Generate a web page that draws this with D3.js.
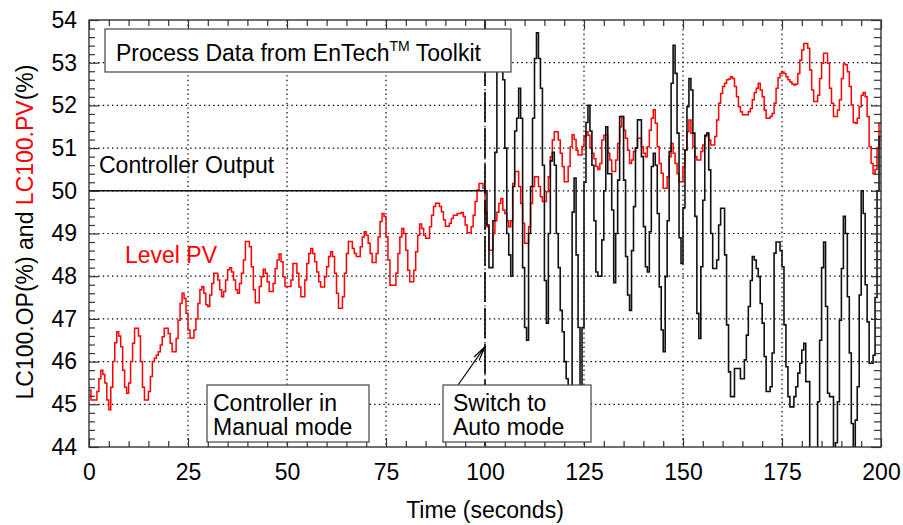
<!DOCTYPE html>
<html>
<head>
<meta charset="utf-8">
<script src="https://cdn.jsdelivr.net/npm/d3@7"></script>
<style>
body { margin: 0; background: #fff; }
text { font-family: "Liberation Sans", Arial, sans-serif; }
</style>
</head>
<body>
<svg id="chart" width="903" height="525"></svg>
<script>
// level PV, one sample every 0.5 s from t = 0 (ten samples per row)
var pvStart = 0, pvStep = 0.5;
var pvValues = [
  45.33, 45.1, 45.1, 45.1, 45.3, 45.6, 45.8, 45.7, 45.5, 45.1,
  44.87, 45.4, 46.0, 46.44, 46.7, 46.6, 46.35, 45.8, 45.4, 45.26,
  45.5, 46.0, 46.43, 46.78, 46.78, 46.6, 46.0, 45.4, 45.1, 45.1,
  45.3, 45.65, 46.0, 46.08, 46.15, 46.23, 46.39, 46.58, 46.78, 46.78,
  46.66, 46.43, 46.23, 46.23, 46.54, 46.97, 47.36, 47.6, 47.48, 47.13,
  46.74, 46.55, 46.55, 46.74, 47.0, 47.36, 47.68, 47.76, 47.6, 47.33,
  47.29, 47.56, 47.83, 48.07, 48.07, 47.91, 47.68, 47.52, 47.64, 47.91,
  48.15, 48.2, 48.1, 47.91, 47.68, 47.6, 47.83, 48.07, 48.38, 48.81,
  48.81, 48.69, 48.22, 47.68, 47.38, 47.38, 47.76, 47.99, 48.16, 48.07,
  47.87, 47.64, 47.64, 47.83, 48.18, 48.38, 48.52, 48.34, 47.99, 47.76,
  47.76, 47.76, 47.91, 48.3, 48.3, 48.07, 47.75, 47.52, 47.52, 47.91,
  48.3, 48.53, 48.65, 48.53, 48.34, 48.1, 47.87, 47.75, 47.75, 47.99,
  48.22, 48.46, 48.57, 48.46, 48.07, 47.6, 47.25, 47.25, 47.52, 48.07,
  48.53, 48.81, 48.81, 48.65, 48.53, 48.46, 48.46, 48.69, 48.92, 49.04,
  48.96, 48.77, 48.53, 48.32, 48.32, 48.53, 48.92, 49.28, 49.47, 49.4,
  48.92, 48.38, 47.79, 47.79, 47.79, 48.07, 48.53, 48.92, 49.12, 49.0,
  48.61, 48.14, 47.87, 47.87, 48.14, 48.57, 48.96, 49.22, 49.12, 48.96,
  48.89, 48.89, 49.16, 49.43, 49.63, 49.71, 49.71, 49.63, 49.51, 49.32,
  49.17, 49.17, 49.24, 49.35, 49.43, 49.43, 49.47, 49.47, 49.49, 49.4,
  49.2, 49.02, 49.02, 49.16, 49.43, 49.75, 50.02, 50.17, 50.17, 50.06,
  49.5, 49.16, 48.61, 48.61, 49.0, 49.3, 49.5, 49.7, 49.82, 49.55,
  49.47, 49.3, 49.16, 49.3, 50.17, 50.45, 50.45, 50.1, 49.7, 49.24,
  48.77, 48.77, 49.16, 49.7, 50.1, 50.33, 50.33, 50.1, 49.86, 49.75,
  49.75, 49.98, 50.33, 50.8, 51.19, 51.38, 51.38, 51.19, 50.88, 50.57,
  50.21, 50.21, 50.57, 51.03, 51.31, 51.2, 50.95, 50.84, 50.84, 51.03,
  51.27, 51.38, 51.3, 51.0, 50.88, 50.75, 50.57, 50.5, 50.64, 51.19,
  51.3, 51.3, 50.88, 50.72, 50.45, 50.45, 50.72, 51.11, 51.5, 51.74,
  51.42, 51.23, 50.95, 50.64, 50.72, 50.92, 51.0, 51.23, 51.23, 51.03,
  50.88, 50.8, 51.03, 51.42, 51.7, 51.9, 51.58, 51.03, 50.64, 50.41,
  50.06, 50.06, 50.33, 50.8, 51.11, 50.88, 50.64, 50.4, 50.21, 50.21,
  50.57, 50.95, 51.38, 51.66, 51.35, 51.03, 50.8, 50.72, 50.72, 50.92,
  51.07, 51.27, 51.35, 51.19, 51.07, 51.07, 51.27, 51.66, 52.05, 52.28,
  52.44, 52.52, 52.6, 52.62, 52.67, 52.63, 52.44, 52.2, 51.97, 51.85,
  51.78, 51.78, 51.78, 51.85, 51.93, 52.13, 52.3, 52.4, 52.52, 52.36,
  52.2, 51.89, 51.7, 51.7, 51.74, 51.81, 52.05, 52.4, 52.65, 52.75,
  52.78, 52.75, 52.67, 52.6, 52.55, 52.5, 52.48, 52.5, 52.75, 53.06,
  53.3, 53.45, 53.45, 53.34, 52.83, 52.36, 52.09, 52.09, 52.24, 52.63,
  52.99, 53.22, 53.22, 52.99, 52.4, 52.05, 51.74, 51.74, 51.89, 52.13,
  52.63, 52.97, 52.95, 52.79, 52.44, 52.01, 51.6, 51.58, 51.7, 51.97,
  52.24, 52.3, 52.2, 51.74, 51.03, 50.64, 50.4, 50.5, 51.0, 51.58,
  51.58
];

// controller output: held at 50 in manual, then sampled every 0.5 s in auto
var opManualTime = [0, 100];
var opManualValues = [50, 50];
var opAutoStart = 100, opAutoStep = 0.5;
var opAutoValues = [
  50.0, 49.2, 48.2, 48.2, 49.3, 50.9, 52.8, 53.4, 53.3, 52.6,
  51.0, 49.0, 48.5, 48.0, 50.1, 51.4, 51.7, 52.4, 51.7, 48.2,
  46.8, 46.5, 49.0, 50.1, 51.7, 53.1, 53.7, 53.1, 52.4, 50.6,
  47.9, 46.9, 49.0, 50.7, 50.9, 50.6, 49.0, 48.2, 47.2, 46.7,
  46.0, 45.6, 44.6, 44.9, 49.5, 50.3, 48.5, 46.8, 45.0, 46.8,
  50.2, 51.6, 52.0, 51.4, 50.6, 49.3, 48.1, 48.0, 48.0, 48.85,
  50.0, 51.5, 50.4, 50.4, 49.55, 47.85, 49.0, 50.25, 51.74, 51.74,
  50.25, 48.46, 47.56, 47.2, 48.6, 49.63, 51.0, 51.66, 51.66, 50.8,
  49.16, 48.22, 48.1, 49.04, 50.57, 50.88, 50.6, 49.47, 47.75, 46.74,
  46.23, 47.99, 49.3, 50.92, 52.52, 53.41, 52.75, 51.35, 48.9, 48.3,
  49.6, 50.96, 51.97, 52.63, 52.36, 51.35, 49.4, 47.13, 46.54, 48.22,
  49.78, 51.3, 51.35, 50.49, 49.0, 48.18, 48.18, 48.38, 49.2, 49.59,
  49.59, 48.5, 46.86, 45.76, 45.18, 45.18, 45.84, 45.84, 45.84, 45.6,
  45.6, 46.04, 46.62, 47.29, 47.9, 48.46, 48.38, 48.18, 47.99, 47.36,
  46.9, 46.12, 45.3, 45.3, 45.41, 46.2, 48.54, 48.8, 48.8, 48.6,
  48.22, 46.86, 45.88, 45.18, 44.94, 44.94, 45.18, 45.41, 45.73, 45.96,
  46.27, 46.43, 45.53, 45.53, 43.5, 43.0, 43.2, 43.8, 45.06, 46.5,
  48.2, 48.8, 47.29, 45.26, 45.18, 45.18, 43.8, 44.1, 45.06, 46.97,
  48.18, 49.4, 49.0, 47.52, 46.2, 44.55, 43.6, 44.63, 45.41, 47.56,
  50.0, 49.47, 47.8, 46.93, 45.96, 45.96, 46.15, 47.5, 50.0, 51.27,
  51.27
];

var switchTime = 100;
var xTicks = [0, 25, 50, 75, 100, 125, 150, 175, 200];
var yTicks = [44, 45, 46, 47, 48, 49, 50, 51, 52, 53, 54];

var plotL = 89, plotR = 881, plotT = 20, plotB = 447;
var fontSize = 23;

var svg = d3.select("#chart");

var x = d3.scaleLinear().domain([0, 200]).range([plotL, plotR]);
var y = d3.scaleLinear().domain([44, 54]).range([plotB, plotT]);

var pvData = pvValues.map(function(v, i) { return { t: pvStart + i * pvStep, v: v }; });
var opData = opManualTime.map(function(t, i) { return { t: t, v: opManualValues[i] }; })
  .concat(opAutoValues.map(function(v, i) { return { t: opAutoStart + i * opAutoStep, v: v }; }));

svg.append("defs").append("clipPath").attr("id", "plotClip")
  .append("rect")
  .attr("x", plotL).attr("y", plotT)
  .attr("width", plotR - plotL).attr("height", plotB - plotT);

// dotted grid
var grid = svg.append("g").attr("class", "grid")
  .attr("stroke", "#000").attr("stroke-width", 1.2)
  .attr("stroke-dasharray", "1.4,3.2");
grid.selectAll(".gx").data(xTicks.slice(1, -1)).enter().append("line")
  .attr("x1", function(d) { return x(d); }).attr("x2", function(d) { return x(d); })
  .attr("y1", plotT).attr("y2", plotB);
grid.selectAll(".gy").data(yTicks.slice(1, -1)).enter().append("line")
  .attr("y1", function(d) { return y(d); }).attr("y2", function(d) { return y(d); })
  .attr("x1", plotL).attr("x2", plotR);

var stepLine = d3.line()
  .x(function(d) { return x(d.t); })
  .y(function(d) { return y(d.v); })
  .curve(d3.curveStepAfter);

var plot = svg.append("g").attr("clip-path", "url(#plotClip)");

plot.append("path").datum(pvData)
  .attr("d", stepLine)
  .attr("fill", "none").attr("stroke", "#ff0000").attr("stroke-width", 1.5);

plot.append("path").datum(opData)
  .attr("d", stepLine)
  .attr("fill", "none").attr("stroke", "#111").attr("stroke-width", 1.6);

// switch to auto marker
plot.append("line")
  .attr("x1", x(switchTime)).attr("x2", x(switchTime))
  .attr("y1", plotT).attr("y2", plotB)
  .attr("stroke", "#000").attr("stroke-width", 1.6)
  .attr("stroke-dasharray", "30,6");

// axes, ticks pointing into the plot
function styleAxis(g) {
  g.select(".domain").remove();
  g.selectAll(".tick line").attr("stroke", "#333").attr("stroke-width", 1.2);
  g.selectAll("text").attr("font-size", fontSize).attr("fill", "#000")
    .attr("font-family", "Liberation Sans, Arial, sans-serif");
}
var minorX = d3.range(0, 201, 5).filter(function(d) { return d % 25 !== 0; });
var minorY = d3.range(44, 54.01, 0.2).filter(function(d) { return Math.abs(d - Math.round(d)) > 0.01; });

svg.append("g").attr("transform", "translate(0," + plotB + ")")
  .call(d3.axisBottom(x).tickValues(xTicks).tickSize(-9).tickPadding(17).tickFormat(d3.format("d")))
  .call(styleAxis);
svg.append("g").attr("transform", "translate(0," + plotB + ")")
  .call(d3.axisBottom(x).tickValues(minorX).tickSize(-6).tickFormat(""))
  .call(styleAxis);
svg.append("g").attr("transform", "translate(0," + plotT + ")")
  .call(d3.axisTop(x).tickValues(xTicks).tickSize(-9).tickFormat(""))
  .call(styleAxis);
svg.append("g").attr("transform", "translate(0," + plotT + ")")
  .call(d3.axisTop(x).tickValues(minorX).tickSize(-6).tickFormat(""))
  .call(styleAxis);
svg.append("g").attr("transform", "translate(" + plotL + ",0)")
  .call(d3.axisLeft(y).tickValues(yTicks).tickSize(-10).tickPadding(12).tickFormat(d3.format("d")))
  .call(styleAxis);
svg.append("g").attr("transform", "translate(" + plotL + ",0)")
  .call(d3.axisLeft(y).tickValues(minorY).tickSize(-6).tickFormat(""))
  .call(styleAxis);
svg.append("g").attr("transform", "translate(" + plotR + ",0)")
  .call(d3.axisRight(y).tickValues(yTicks).tickSize(-10).tickFormat(""))
  .call(styleAxis);
svg.append("g").attr("transform", "translate(" + plotR + ",0)")
  .call(d3.axisRight(y).tickValues(minorY).tickSize(-7).tickFormat(""))
  .call(styleAxis);

svg.append("rect")
  .attr("x", plotL).attr("y", plotT)
  .attr("width", plotR - plotL).attr("height", plotB - plotT)
  .attr("fill", "none").attr("stroke", "#333").attr("stroke-width", 1.4);

// annotation boxes
function noteBox(bx, by, bw, bh) {
  svg.append("rect")
    .attr("x", bx).attr("y", by).attr("width", bw).attr("height", bh)
    .attr("fill", "#fff").attr("stroke", "#444").attr("stroke-width", 1.2);
}

noteBox(105, 29, 406, 43);
var title = svg.append("text").attr("x", 116).attr("y", 61).attr("font-size", fontSize);
title.append("tspan").text("Process Data from EnTech");
title.append("tspan").attr("font-size", 14).attr("dy", -10).text("TM");
title.append("tspan").attr("dy", 10).text(" Toolkit");

noteBox(207, 385, 162, 57);
svg.append("text").attr("x", 213).attr("y", 411).attr("font-size", fontSize).text("Controller in");
svg.append("text").attr("x", 213).attr("y", 435).attr("font-size", fontSize).text("Manual mode");

// arrow from the second box to the switch point
var tail = [458, 385], tip = [x(switchTime), y(46.35)];
var ang = Math.atan2(tip[1] - tail[1], tip[0] - tail[0]);
var headLen = 15, spread = 0.2;
svg.append("path")
  .attr("d", "M" + tail + "L" + tip +
    "M" + [tip[0] - headLen * Math.cos(ang - spread), tip[1] - headLen * Math.sin(ang - spread)] + "L" + tip +
    "L" + [tip[0] - headLen * Math.cos(ang + spread), tip[1] - headLen * Math.sin(ang + spread)])
  .attr("fill", "none").attr("stroke", "#000").attr("stroke-width", 1.2);

noteBox(443, 385, 148, 57);
svg.append("text").attr("x", 453).attr("y", 411).attr("font-size", fontSize).text("Switch to");
svg.append("text").attr("x", 453).attr("y", 435).attr("font-size", fontSize).text("Auto mode");

svg.append("text").attr("x", 99).attr("y", 173).attr("font-size", fontSize).text("Controller Output");
svg.append("text").attr("x", 125).attr("y", 263).attr("font-size", fontSize)
  .attr("fill", "#ff0000").text("Level PV");

// axis titles
var yLab = svg.append("text")
  .attr("transform", "translate(33,232) rotate(-90)")
  .attr("text-anchor", "middle").attr("font-size", fontSize);
yLab.append("tspan").text("LC100.OP(%) and ");
yLab.append("tspan").attr("fill", "#ff0000").text("LC100.PV");
yLab.append("tspan").text("(%)");

svg.append("text").attr("x", 485).attr("y", 518)
  .attr("text-anchor", "middle").attr("font-size", fontSize)
  .text("Time (seconds)");
</script>
</body>
</html>
